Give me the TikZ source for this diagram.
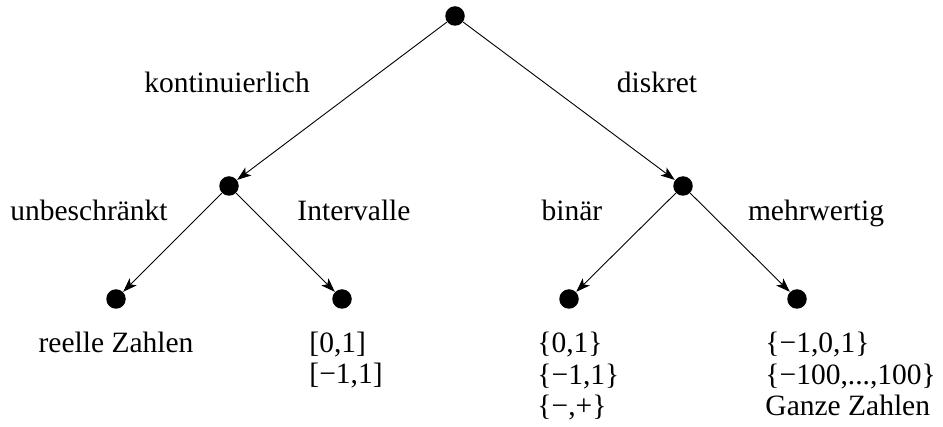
\documentclass[tikz,border=0pt]{standalone}
\usepackage{fontspec}
\setmainfont{Liberation Serif}
\usetikzlibrary{arrows.meta}

\begin{document}
\begin{tikzpicture}[%
    x=1pt, y=-1pt,
    line width=0.9pt,
    every node/.style={
        font=\fontsize{29.5}{31.5}\selectfont,
        inner sep=0pt,
    },
    dot/.style={circle, fill=black, minimum size=19.5pt},
    branch/.style={-{Stealth[length=14pt,width=10pt,inset=3.5pt]}},
    lbl/.style={anchor=base},
    leaf/.style={anchor=base west, align=left},
]
\useasboundingbox (0,0) rectangle (943,427);

% place the dots
\node[dot] (root) at (455,16) {};
\node[dot] (kont) at (229,186) {};
\node[dot] (disk) at (683,186) {};
\node[dot] (unb) at (116,299) {};
\node[dot] (int) at (342,299) {};
\node[dot] (bin) at (569,299) {};
\node[dot] (mehr) at (797,299) {};

% draw the branches
\draw[branch] (root) -- (kont);
\draw[branch] (root) -- (disk);
\draw[branch] (kont) -- (unb);
\draw[branch] (kont) -- (int);
\draw[branch] (disk) -- (bin);
\draw[branch] (disk) -- (mehr);

% place branch labels
\node[lbl] (l-kont) at (227,93) {kontinuierlich};
\node[lbl] (l-disk) at (657,93) {diskret};
\node[lbl] (l-unb) at (89,221) {unbeschränkt};
\node[lbl] (l-int) at (354,221) {Intervalle};
\node[lbl] (l-bin) at (572,221) {binär};
\node[lbl] (l-mehr) at (816,221) {mehrwertig};

% place leaf values (base = last line)
\node[lbl] (v-unb) at (116,353) {reelle Zahlen};
\node[leaf] (v-int) at (309,384) {[0,1]\\{}[−1,1]};
\node[leaf] (v-bin) at (537,416) {\{0,1\}\\\{−1,1\}\\\{−,+\}};
\node[leaf] (v-mehr) at (765,416) {\{−1,0,1\}\\\{−100,...,100\}\\Ganze Zahlen};
\end{tikzpicture}
\end{document}
